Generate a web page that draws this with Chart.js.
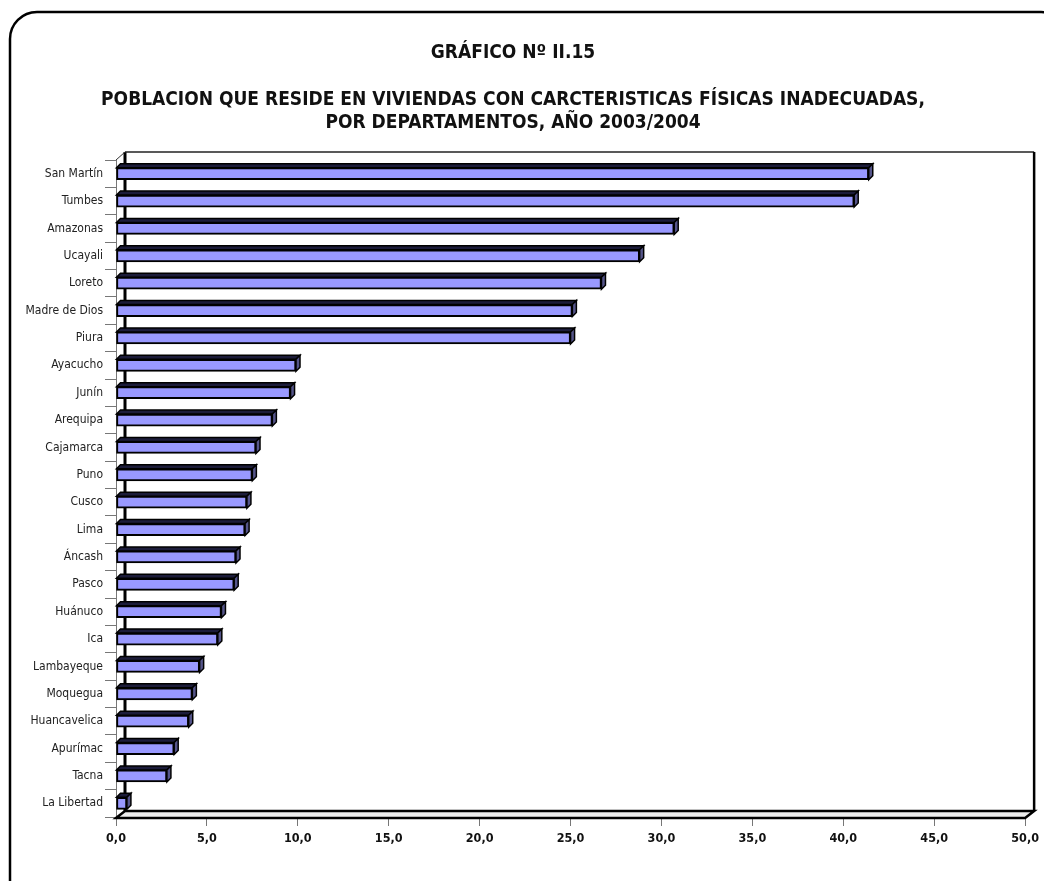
<!DOCTYPE html>
<html>
<head>
<meta charset="utf-8">
<script src="https://cdn.jsdelivr.net/npm/chart.js@4.4.0/dist/chart.umd.min.js"></script>
<style>
html,body{margin:0;padding:0;background:#fff;}
#wrap{width:1044px;height:881px;position:relative;}
</style>
</head>
<body>
<div id="wrap"><canvas id="c" width="1044" height="881"></canvas></div>
<script>
const categories = ['San Martín','Tumbes','Amazonas','Ucayali','Loreto','Madre de Dios','Piura','Ayacucho','Junín','Arequipa','Cajamarca','Puno','Cusco','Lima','Áncash','Pasco','Huánuco','Ica','Lambayeque','Moquegua','Huancavelica','Apurímac','Tacna','La Libertad'];
const values = [41.4,40.6,30.7,28.8,26.7,25.1,25.0,9.9,9.6,8.6,7.7,7.5,7.2,7.1,6.6,6.5,5.8,5.6,4.6,4.2,4.0,3.2,2.8,0.6];
const xTickLabels = ['0,0','5,0','10,0','15,0','20,0','25,0','30,0','35,0','40,0','45,0','50,0'];
const titleText = 'GRÁFICO Nº II.15';
const subtitleText = ['POBLACION QUE RESIDE EN VIVIENDAS CON CARCTERISTICAS FÍSICAS INADECUADAS,', 'POR DEPARTAMENTOS, AÑO 2003/2004'];

const FONT = "'Liberation Sans Narrow','Arial Narrow','DejaVu Sans Condensed',sans-serif";

const framePlugin = {
  id: 'frame3d',
  beforeDraw(chart) {
    const ctx = chart.ctx;
    ctx.save();
    ctx.fillStyle = '#fff';
    ctx.fillRect(0, 0, chart.width, chart.height);
    ctx.beginPath();
    ctx.roundRect(10, 12, 1058, 900, 27);
    ctx.lineWidth = 2.5;
    ctx.strokeStyle = '#000';
    ctx.stroke();
    ctx.restore();
  },
  beforeDatasetsDraw(chart) {
    const ctx = chart.ctx;
    const {left, right, top, bottom} = chart.chartArea;
    const dx = 9, dy = 7;
    ctx.save();
    // floor
    ctx.beginPath();
    ctx.moveTo(left, bottom + 1);
    ctx.lineTo(left + dx, bottom + 1 - dy);
    ctx.lineTo(right + dx, bottom + 1 - dy);
    ctx.lineTo(right, bottom + 1);
    ctx.closePath();
    ctx.fillStyle = '#ececec';
    ctx.fill();
    ctx.lineWidth = 2.5;
    ctx.strokeStyle = '#000';
    ctx.stroke();
    // back wall
    ctx.beginPath();
    ctx.moveTo(left + dx, bottom + 1 - dy);
    ctx.lineTo(left + dx, top - 8);
    ctx.lineWidth = 3;
    ctx.stroke();
    ctx.beginPath();
    ctx.moveTo(left + dx, top - 8);
    ctx.lineTo(right + dx, top - 8);
    ctx.lineWidth = 1.5;
    ctx.strokeStyle = '#222';
    ctx.stroke();
    ctx.beginPath();
    ctx.moveTo(right + dx, top - 8);
    ctx.lineTo(right + dx, bottom + 1 - dy);
    ctx.lineWidth = 2.5;
    ctx.strokeStyle = '#000';
    ctx.stroke();
    // left wall diagonal
    ctx.beginPath();
    ctx.moveTo(left, top);
    ctx.lineTo(left + dx, top - 8);
    ctx.lineWidth = 1;
    ctx.strokeStyle = '#333';
    ctx.stroke();
    ctx.restore();
  },
  afterDatasetsDraw(chart) {
    const ctx = chart.ctx;
    const meta = chart.getDatasetMeta(0);
    const d = 4;
    ctx.save();
    ctx.lineJoin = 'miter';
    meta.data.forEach(bar => {
      const p = bar.getProps(['x', 'y', 'base', 'height'], true);
      const x0 = p.base, x1 = p.x;
      const t = p.y - p.height / 2, b = p.y + p.height / 2;
      ctx.beginPath();
      ctx.moveTo(x0, t);
      ctx.lineTo(x0 + d, t - d);
      ctx.lineTo(x1 + d, t - d);
      ctx.lineTo(x1, t);
      ctx.closePath();
      ctx.fillStyle = '#1c1c3a';
      ctx.fill();
      ctx.lineWidth = 1.5;
      ctx.strokeStyle = '#000';
      ctx.stroke();
      ctx.beginPath();
      ctx.moveTo(x1, t);
      ctx.lineTo(x1 + d, t - d);
      ctx.lineTo(x1 + d, b - d);
      ctx.lineTo(x1, b);
      ctx.closePath();
      ctx.fillStyle = '#55558a';
      ctx.fill();
      ctx.stroke();
    });
    ctx.restore();
  }
};

new Chart(document.getElementById('c'), {
  type: 'bar',
  data: {
    labels: categories,
    datasets: [{
      data: values,
      backgroundColor: '#9999ff',
      borderColor: '#000',
      borderWidth: 2,
      borderSkipped: false,
      barThickness: 12
    }]
  },
  options: {
    indexAxis: 'y',
    responsive: false,
    animation: false,
    layout: { padding: { left: 0, right: 18, top: 0, bottom: 0 } },
    plugins: {
      legend: { display: false },
      tooltip: { enabled: false },
      title: {
        display: true,
        text: titleText,
        color: '#111',
        font: { family: FONT, size: 19, weight: 'bold', lineHeight: 1.2 },
        padding: { top: 42, bottom: 24 }
      },
      subtitle: {
        display: true,
        text: subtitleText,
        color: '#111',
        font: { family: FONT, size: 19, weight: 'bold', lineHeight: 23 / 19 },
        padding: { top: 0, bottom: 25.2 }
      }
    },
    scales: {
      x: {
        type: 'linear',
        min: 0,
        max: 50,
        ticks: {
          stepSize: 5,
          color: '#111',
          padding: 5,
          font: { family: FONT, size: 12.5, weight: 'bold' },
          callback: (v, i) => xTickLabels[i]
        },
        grid: { drawOnChartArea: false, drawTicks: true, tickLength: 9, color: '#777' },
        border: { display: false },
        afterFit: s => { s.height = 64; }
      },
      y: {
        ticks: {
          color: '#222',
          padding: 2,
          font: { family: FONT, size: 12 }
        },
        grid: { drawOnChartArea: false, drawTicks: true, tickLength: 11, color: '#777', offset: true },
        border: { display: true, color: '#777', width: 1 },
        afterFit: s => { s.width = 116; }
      }
    }
  },
  plugins: [framePlugin]
});
</script>
</body>
</html>
